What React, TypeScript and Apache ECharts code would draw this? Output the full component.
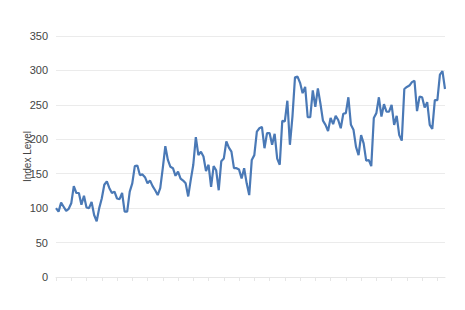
import React, { useEffect, useRef } from "react";
import * as echarts from "echarts";

const seg1 = [100, 95, 108, 102, 96, 99, 107, 132, 122, 122, 105, 118, 101, 100, 109, 90, 81, 100, 114, 134, 139, 129, 122, 124, 114, 113, 122, 95, 95];
const seg2 = [124, 136, 161, 162, 148, 149, 145, 136, 140, 132, 126, 119, 129, 158, 190, 170, 160, 158, 147, 153, 143, 140, 136, 117, 141, 163, 203, 177, 182, 175, 154, 163, 131, 161, 155, 126, 168, 172, 197, 188, 182, 158, 158, 156, 143, 158, 136, 119];
const seg3 = [170, 177, 211, 216, 218, 187, 209, 209, 192, 208, 172, 163, 227, 226, 256, 192, 233, 290, 291, 282, 267, 276, 232, 232, 271, 247, 274, 252, 227, 221, 212, 231, 222, 234, 228, 216, 237, 238, 261, 221, 214, 189, 177, 206, 194, 169, 170, 161, 231, 238, 261, 233, 251, 240, 240, 250, 221, 234, 206, 198, 273, 276, 278, 283, 285, 241, 262, 261, 246, 254, 221, 215, 257, 257, 294, 299, 273];
const values = [...seg1, ...seg2, ...seg3];
const categories = values.map((_, i) => String(i + 1));
const yTicks = { min: 0, max: 350, interval: 50 };

export default function App() {
  const ref = useRef<HTMLDivElement>(null);
  useEffect(() => {
    const chart = echarts.init(ref.current!, null, { renderer: "svg" });
    chart.setOption({
      animation: false,
      grid: { left: 56, right: 20, top: 36, bottom: 33 },
      xAxis: {
        type: "category",
        data: categories,
        boundaryGap: false,
        axisLine: { lineStyle: { color: "#e6e6e6" } },
        axisTick: { show: true, interval: 5, length: 4, lineStyle: { color: "#e6e6e6" } },
        axisLabel: { show: false },
        splitLine: { show: false },
      },
      yAxis: {
        type: "value",
        min: yTicks.min,
        max: yTicks.max,
        interval: yTicks.interval,
        name: "Index Level",
        nameLocation: "middle",
        nameGap: 24,
        nameMoveOverlap: false,
        nameTextStyle: { fontSize: 10, color: "#444", fontFamily: "Liberation Sans, Arial, sans-serif" },
        axisLine: { show: false },
        axisTick: { show: false },
        axisLabel: { fontSize: 11, color: "#444", margin: 8, fontFamily: "Liberation Sans, Arial, sans-serif" },
        splitLine: { lineStyle: { color: "#ebebeb" } },
      },
      series: [
        {
          type: "line",
          data: values,
          symbol: "none",
          lineStyle: { color: "#4a79b6", width: 2.2 },
        },
      ],
    });
    return () => chart.dispose();
  }, []);
  return (
    <div
      ref={ref}
      style={{ position: "absolute", left: 0, top: 0, width: 465, height: 310, background: "#fff" }}
    />
  );
}
